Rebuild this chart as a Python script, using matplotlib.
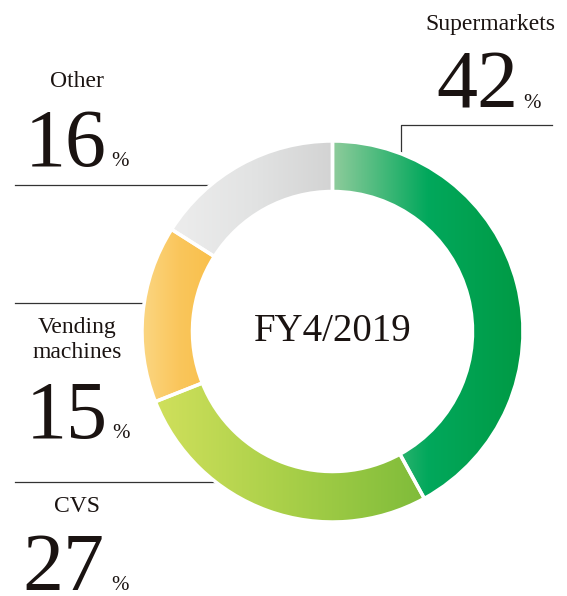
import numpy as np
import matplotlib
matplotlib.use("Agg")
import matplotlib.pyplot as plt
from matplotlib.colors import LinearSegmentedColormap

# share of sales by channel, FY4/2019 (clockwise from top)
channels = ["Supermarkets", "CVS", "Vending machines", "Other"]
shares = [42, 27, 15, 16]
labels = ["Supermarkets", "CVS", "Vending\nmachines", "Other"]
grad_colors = [
    ["#90cc9c", "#02a85c", "#009a44"],
    ["#d0e05c", "#a8cf48", "#7fbc3a"],
    ["#fbd682", "#fac65c", "#f9bf4a"],
    ["#ededed", "#e2e3e3", "#d3d3d3"],
]

plt.rcParams["font.family"] = ["Liberation Serif", "DejaVu Serif"]
ink = "#1a1311"

W, H = 567, 596
fig = plt.figure(figsize=(W / 100, H / 100), dpi=100)
fig.patch.set_facecolor("white")

# overlay axes in pixel coordinates for labels and leader lines
ax0 = fig.add_axes([0, 0, 1, 1])
ax0.set_xlim(0, W)
ax0.set_ylim(H, 0)
ax0.axis("off")

# donut axes
cx, cy, R = 332.5, 331.5, 190.5
ax = fig.add_axes([(cx - R) / W, (H - cy - R) / H, 2 * R / W, 2 * R / H])
ax.set_zorder(2)
ax.patch.set_alpha(0)

ring = 0.265
wedges, _ = ax.pie(shares, startangle=90, counterclock=False, radius=1,
                   wedgeprops=dict(width=ring, linewidth=0))
grad = np.linspace(0, 1, 256).reshape(1, -1)
for w, cols in zip(wedges, grad_colors):
    ext = w.get_path().get_extents()
    cmap = LinearSegmentedColormap.from_list("g", cols)
    im = ax.imshow(grad, cmap=cmap, aspect="auto",
                   extent=[ext.x0, ext.x1, ext.y0, ext.y1], zorder=2)
    im.set_clip_path(w)
    w.set_facecolor("none")

# white separators
ax.pie(shares, startangle=90, counterclock=False, radius=1,
       wedgeprops=dict(width=ring, facecolor="none", edgecolor="white", linewidth=2.5, zorder=3))
ax.set_xlim(-1, 1)
ax.set_ylim(-1, 1)
ax.axis("off")

ax.text(0, 0, "FY4/2019", ha="center", va="center", fontsize=28, color=ink, zorder=4)

# leader lines (run under the ring)
lc = "#333333"
lw = 0.9
ax0.plot([552, 401, 401], [125, 125, 170], color=lc, lw=lw)
ax0.plot([15, 230], [185, 185], color=lc, lw=lw)
ax0.plot([15, 165], [303, 303], color=lc, lw=lw)
ax0.plot([15, 235], [482, 482], color=lc, lw=lw)

# label x, first label baseline, number x, number baseline, % x
pos = {
    "Supermarkets": (490, 30, 436, 108, 523),
    "CVS": (77, 512, 22, 590, 111),
    "Vending machines": (77, 333, 26, 438, 112),
    "Other": (77, 87, 25, 166, 111),
}
for name, lab, val in zip(channels, labels, shares):
    lx, ly, nx, ny, px = pos[name]
    for i, line in enumerate(lab.split("\n")):
        ax0.text(lx, ly + 25 * i, line, ha="center", va="baseline", fontsize=17, color=ink)
    ax0.text(nx, ny, str(val), ha="left", va="baseline", fontsize=59, color=ink)
    ax0.text(px, ny, "%", ha="left", va="baseline", fontsize=15, color=ink)

fig.savefig("out.png", dpi=100, facecolor="white")
